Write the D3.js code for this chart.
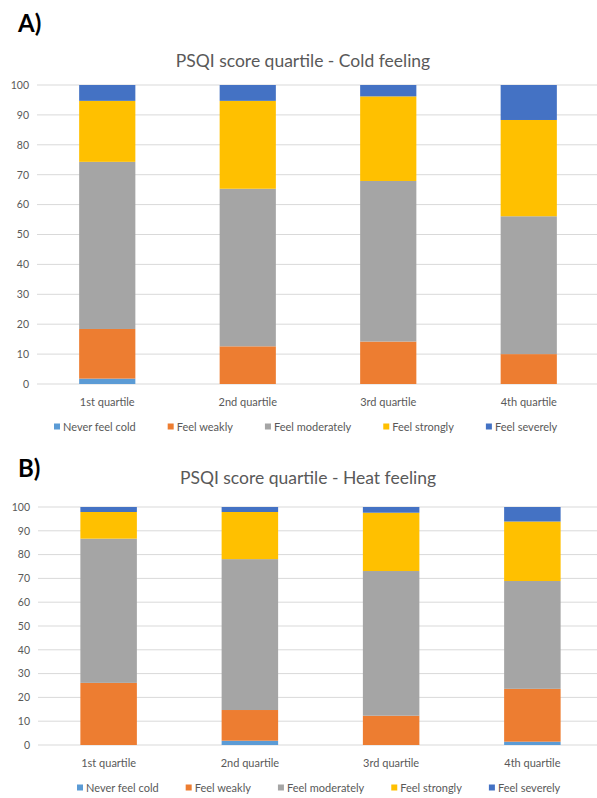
<!DOCTYPE html>
<html lang="en">
<head>
    <meta charset="UTF-8">
    <title>PSQI score quartile</title>
    <script src="https://d3js.org/d3.v7.min.js"></script>
</head>
<style>
    html,body {
        margin: 0;
        padding: 0;
        background: #fff;
    }
</style>
<body>
    <div id="svg"></div>
</body>
<script>
    // categories and series
    const quartiles = ['1st quartile', '2nd quartile', '3rd quartile', '4th quartile'];
    const feelings = ['Never feel cold', 'Feel weakly', 'Feel moderately', 'Feel strongly', 'Feel severely'];
    const yTicks = [0, 10, 20, 30, 40, 50, 60, 70, 80, 90, 100];

    // A) cold feeling (%)
    const coldNever      = [1.8, 0, 0, 0];
    const coldWeakly     = [16.6, 12.6, 14.2, 10.0];
    const coldModerately = [55.9, 52.7, 53.7, 46.1];
    const coldStrongly   = [20.4, 29.4, 28.3, 32.2];
    const coldSeverely   = [5.3, 5.3, 3.8, 11.7];

    // B) heat feeling (%)
    const heatNever      = [0, 1.8, 0, 1.4];
    const heatWeakly     = [26.1, 12.9, 12.3, 22.2];
    const heatModerately = [60.6, 63.4, 60.8, 45.3];
    const heatStrongly   = [11.2, 19.8, 24.5, 25.0];
    const heatSeverely   = [2.1, 2.1, 2.4, 6.1];

    const colors = ['#5B9BD5', '#ED7D31', '#A5A5A5', '#FFC000', '#4472C4'];

    const svg = d3.select('#svg').append('svg')
        .attr('width', 597)
        .attr('height', 798)
        .style('font-family', 'Lato, "Open Sans", sans-serif');

    // turn series arrays into rows for d3.stack
    function toRows(series) {
        return quartiles.map((q, i) => {
            const row = { q: q };
            feelings.forEach((f, k) => { row[f] = series[k][i]; });
            return row;
        });
    }

    function drawChart(cfg) {
        const g = svg.append('g');

        g.append('text')
            .attr('x', 18).attr('y', cfg.letterY)
            .attr('font-size', 24).attr('font-weight', 'bold')
            .attr('fill', '#000')
            .text(cfg.letter);

        g.append('text')
            .attr('x', cfg.titleX).attr('y', cfg.titleY)
            .attr('text-anchor', 'middle')
            .attr('font-size', 17.5)
            .attr('fill', '#595959')
            .text(cfg.title);

        const x = d3.scaleBand().domain(quartiles)
            .range([cfg.left, cfg.right]).paddingInner(0.6).paddingOuter(0.3);
        const y = d3.scaleLinear().domain([0, 100]).range([cfg.bottom, cfg.top]);

        // gridlines
        g.append('g').selectAll('line')
            .data(yTicks)
            .enter().append('line')
            .attr('x1', cfg.left).attr('x2', 597)
            .attr('y1', d => y(d)).attr('y2', d => y(d))
            .attr('stroke', '#d9d9d9').attr('stroke-width', 1);

        const yAxis = g.append('g')
            .attr('transform', `translate(${cfg.left - 8},0)`)
            .call(d3.axisLeft(y).tickValues(yTicks).tickSize(0).tickPadding(0));
        yAxis.select('.domain').remove();
        yAxis.selectAll('text').attr('font-size', 10.5).attr('fill', '#595959')
            .attr('font-family', 'Lato, sans-serif');

        const stack = d3.stack().keys(feelings)(toRows(cfg.series));
        g.append('g').selectAll('g')
            .data(stack)
            .enter().append('g')
            .attr('fill', (d, i) => colors[i])
            .selectAll('rect')
            .data(d => d)
            .enter().append('rect')
            .attr('x', d => x(d.data.q))
            .attr('width', x.bandwidth())
            .attr('y', d => y(d[1]))
            .attr('height', d => y(d[0]) - y(d[1]));

        const xAxis = g.append('g')
            .attr('transform', `translate(0,${cfg.bottom})`)
            .call(d3.axisBottom(x).tickSize(0).tickPadding(14));
        xAxis.select('.domain').remove();
        xAxis.selectAll('text').attr('font-size', 11).attr('fill', '#595959')
            .attr('font-family', 'Lato, sans-serif');

        // legend
        const leg = g.append('g').attr('transform', `translate(${cfg.legendX},${cfg.legendY})`);
        let lx = 0;
        feelings.forEach((f, i) => {
            leg.append('rect')
                .attr('x', lx).attr('y', -3.5)
                .attr('width', 6).attr('height', 6)
                .attr('fill', colors[i]);
            const t = leg.append('text')
                .attr('x', lx + 9).attr('y', 0)
                .attr('dy', '0.35em')
                .attr('font-size', 11).attr('fill', '#595959')
                .text(f);
            lx += 9 + t.node().getComputedTextLength() + cfg.legendGap;
        });
    }

    drawChart({
        letter: 'A)', letterY: 32,
        title: 'PSQI score quartile - Cold feeling', titleX: 303, titleY: 67,
        left: 37, right: 599, top: 85, bottom: 384,
        legendX: 54, legendY: 427, legendGap: 32,
        series: [coldNever, coldWeakly, coldModerately, coldStrongly, coldSeverely]
    });

    drawChart({
        letter: 'B)', letterY: 477,
        title: 'PSQI score quartile - Heat feeling', titleX: 308, titleY: 484,
        left: 38, right: 603, top: 507, bottom: 745,
        legendX: 77, legendY: 788, legendGap: 27,
        series: [heatNever, heatWeakly, heatModerately, heatStrongly, heatSeverely]
    });
</script>
</html>
